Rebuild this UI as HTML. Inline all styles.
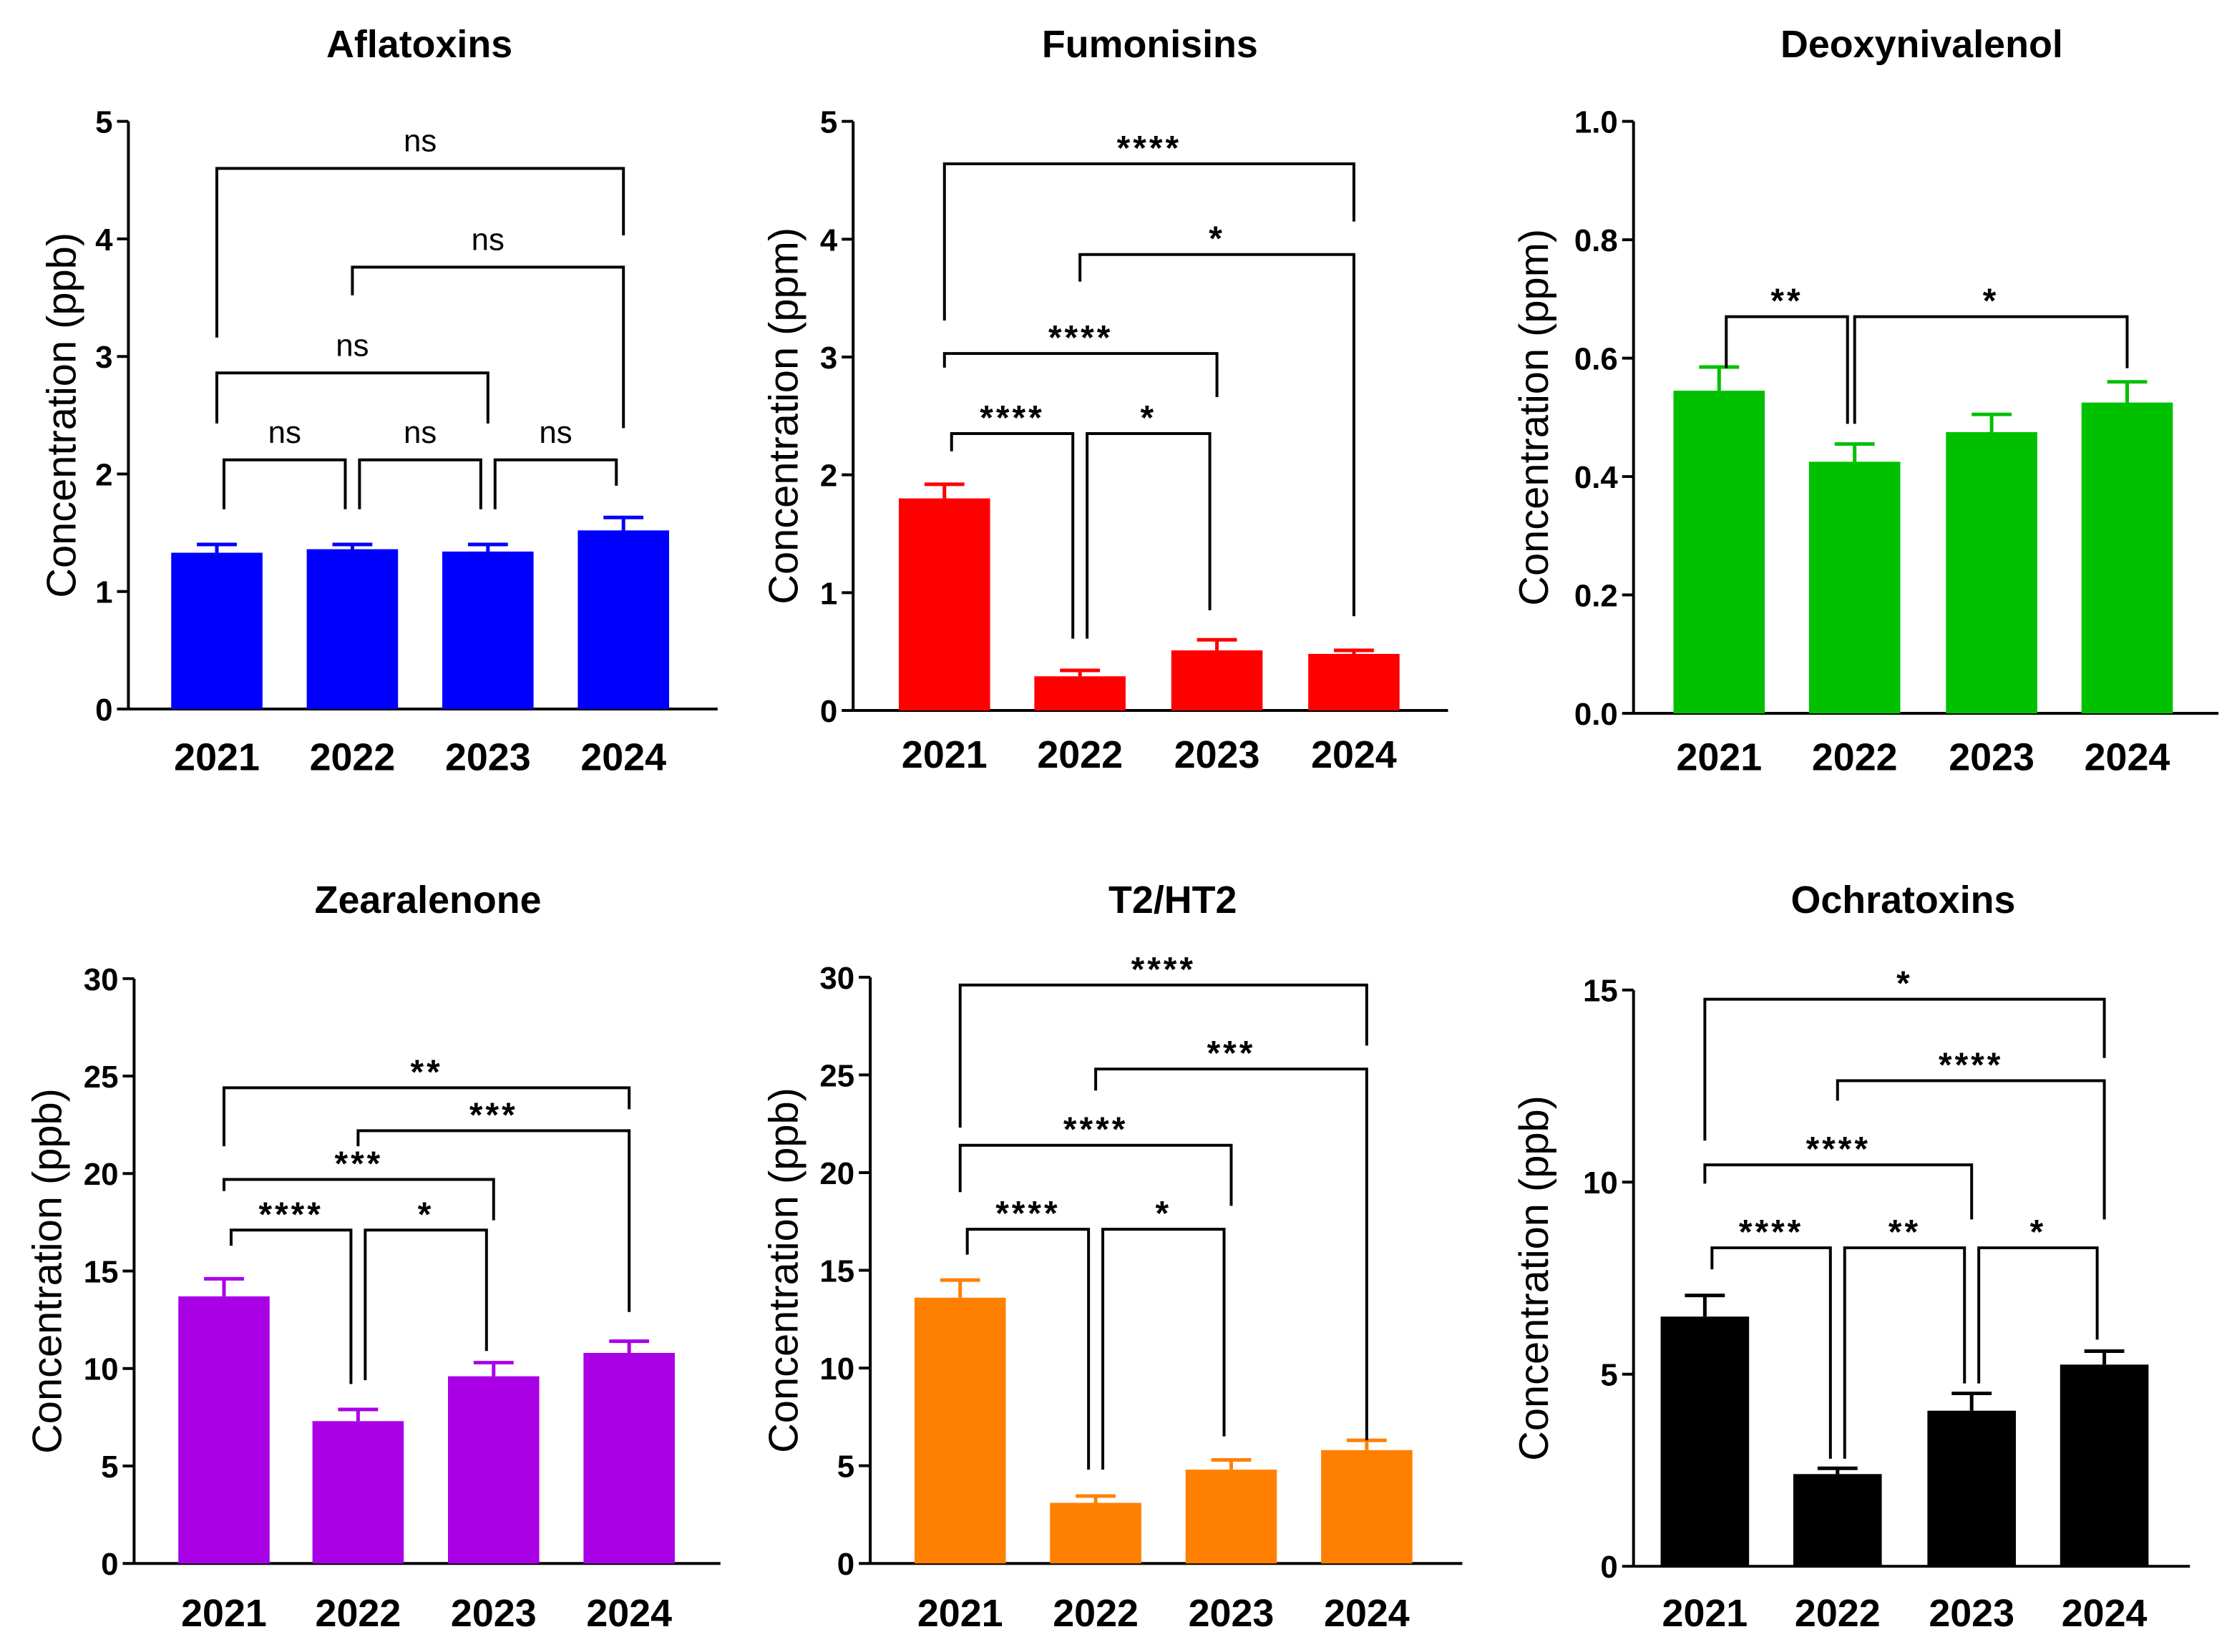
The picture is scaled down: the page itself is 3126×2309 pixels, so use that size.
<!DOCTYPE html>
<html><head><meta charset="utf-8"><style>
html,body{margin:0;padding:0;background:#fff;}
svg{display:block;font-family:"Liberation Sans",Arial,sans-serif;}
</style></head><body>
<svg id="fig" width="3126" height="2309" viewBox="0 0 1568 1158" xmlns="http://www.w3.org/2000/svg"></svg>
<script>
const years = ["2021","2022","2023","2024"];
// panel values
const aflaVals = [1.33,1.36,1.34,1.52];
const aflaErr = [0.07,0.04,0.06,0.11];
const fumVals = [1.80,0.29,0.51,0.48];
const fumErr = [0.12,0.05,0.09,0.03];
const donVals = [0.545,0.425,0.475,0.525];
const donErr = [0.04,0.03,0.03,0.035];
const zeaVals = [13.7,7.3,9.6,10.8];
const zeaErr = [0.9,0.6,0.7,0.6];
const t2Vals = [13.6,3.1,4.8,5.8];
const t2Err = [0.9,0.35,0.5,0.5];
const ochVals = [6.5,2.4,4.05,5.25];
const ochErr = [0.55,0.15,0.45,0.35];
// tick labels
const ticks05 = [0,1,2,3,4,5];
const ticksDon = ["0.0","0.2","0.4","0.6","0.8","1.0"];
const ticks30 = [0,5,10,15,20,25,30];
const ticks15 = [0,5,10,15];
// brackets: [i, j, height, leftLegBottom, rightLegBottom, label]
const aflaBr = [[0,1,2.12,1.70,1.70,"ns"],[1,2,2.12,1.70,1.70,"ns"],[2,3,2.12,1.70,1.90,"ns"],[0,2,2.86,2.43,2.43,"ns"],[1,3,3.76,3.52,2.39,"ns"],[0,3,4.60,3.16,4.03,"ns"]];
const fumBr = [[0,3,4.64,3.31,4.15,"****"],[1,3,3.87,3.64,0.80,"*"],[0,2,3.03,2.91,2.66,"****"],[0,1,2.35,2.20,0.61,"****"],[1,2,2.35,0.61,0.85,"*"]];
const donBr = [[0,1,0.67,0.583,0.489,"**"],[1,3,0.67,0.489,0.583,"*"]];
const zeaBr = [[0,3,24.4,21.4,23.3,"**"],[1,3,22.2,21.4,12.9,"***"],[0,2,19.7,19.1,17.6,"***"],[0,1,17.1,16.3,9.2,"****"],[1,2,17.1,9.4,10.9,"*"]];
const t2Br = [[0,3,29.6,22.3,26.5,"****"],[1,3,25.3,24.2,6.3,"***"],[0,2,21.4,19.0,18.3,"****"],[0,1,17.1,15.8,4.8,"****"],[1,2,17.1,4.8,6.5,"*"]];
const ochBr = [[0,3,14.76,11.08,13.23,"*"],[1,3,12.64,12.12,9.03,"****"],[0,2,10.45,9.96,9.03,"****"],[0,1,8.29,7.73,2.8,"****"],[1,2,8.29,2.8,4.76,"**"],[2,3,8.29,4.76,5.9,"*"]];

const NS="http://www.w3.org/2000/svg";
const svg=document.getElementById("fig");
function mk(tag,attrs,parent,text){const e=document.createElementNS(NS,tag);for(const k in attrs)e.setAttribute(k,attrs[k]);if(text!==undefined)e.textContent=text;(parent||svg).appendChild(e);return e;}

const panels=[
 {key:"aflatoxins",title:"Aflatoxins",tx:294,ty:40,ax:90,axEnd:503,y0:497,yTop:85,max:5,ticks:ticks05,vals:aflaVals,err:aflaErr,br:aflaBr,color:"#0000ff",ylab:"Concentration (ppb)",ylx:53,cx:[152,247,342,437],bw:64,yearY:540},
 {key:"fumonisins",title:"Fumonisins",tx:806,ty:40,ax:598,axEnd:1015,y0:498,yTop:85,max:5,ticks:ticks05,vals:fumVals,err:fumErr,br:fumBr,color:"#ff0000",ylab:"Concentration (ppm)",ylx:559,cx:[662,757,853,949],bw:64,yearY:538},
 {key:"deoxynivalenol",title:"Deoxynivalenol",tx:1347,ty:40,ax:1145,axEnd:1555,y0:500,yTop:85,max:1,ticks:ticksDon,vals:donVals,err:donErr,br:donBr,color:"#00c000",ylab:"Concentration (ppm)",ylx:1085,cx:[1205,1300,1396,1491],bw:64,yearY:540},
 {key:"zearalenone",title:"Zearalenone",tx:300,ty:640,ax:94,axEnd:505,y0:1096,yTop:686,max:30,ticks:ticks30,vals:zeaVals,err:zeaErr,br:zeaBr,color:"#aa00e6",ylab:"Concentration (ppb)",ylx:43,cx:[157,251,346,441],bw:64,yearY:1140},
 {key:"t2-ht2",title:"T2/HT2",tx:822,ty:640,ax:610,axEnd:1025,y0:1096,yTop:685,max:30,ticks:ticks30,vals:t2Vals,err:t2Err,br:t2Br,color:"#ff8000",ylab:"Concentration (ppb)",ylx:559,cx:[673,768,863,958],bw:64,yearY:1140},
 {key:"ochratoxins",title:"Ochratoxins",tx:1334,ty:640,ax:1145,axEnd:1535,y0:1098,yTop:694,max:15,ticks:ticks15,vals:ochVals,err:ochErr,br:ochBr,color:"#000000",ylab:"Concentration (ppb)",ylx:1085,cx:[1195,1288,1382,1475],bw:62,yearY:1140}
];

panels.forEach(p=>{
 const g=mk("g",{});
 
 
 const Y=v=>p.y0-(v/p.max)*(p.y0-p.yTop);
 const t=mk("text",{x:p.tx,y:p.ty,"text-anchor":"middle","font-size":27,"font-weight":"bold"},g,p.title);
 
 
 const yl=mk("text",{x:0,y:0,transform:`translate(${p.ylx},${(p.y0+p.yTop)/2}) rotate(-90)`,"text-anchor":"middle","font-size":29},g,p.ylab);
 
 
 const ya=mk("line",{x1:p.ax,y1:p.yTop,x2:p.ax,y2:p.y0,stroke:"#000","stroke-width":2},g);
 
 
 const xa=mk("line",{x1:p.ax,y1:p.y0,x2:p.axEnd,y2:p.y0,stroke:"#000","stroke-width":2},g);
 
 
 const n=p.ticks.length-1;
 p.ticks.forEach((tk,k)=>{
  const v=p.max*k/n, y=Y(v);
  mk("line",{x1:p.ax-8,y1:y,x2:p.ax,y2:y,stroke:"#000","stroke-width":2},g);
  const tl=mk("text",{x:p.ax-11,y:y+8,"text-anchor":"end","font-size":22,"font-weight":"bold"},g,String(tk));
  
  
 });
 p.vals.forEach((v,i)=>{
  const cx=p.cx[i], top=Y(v), et=Y(v+p.err[i]);
  const r=mk("rect",{x:cx-p.bw/2,y:top,width:p.bw,height:p.y0-top,fill:p.color},g);
  
  
  const e=mk("path",{d:`M${cx} ${top} V${et} M${cx-14} ${et} H${cx+14}`,stroke:p.color,"stroke-width":2.5,fill:"none"},g);
  
  
  const xl=mk("text",{x:cx,y:p.yearY,"text-anchor":"middle","font-size":27,"font-weight":"bold"},g,years[i]);
  
  
 });
 p.br.forEach(b=>{
  const [i,j,h,lb,rb,lab]=b;
  const adj=(j-i===1)?5:0;
  const x1=p.cx[i]+adj, x2=p.cx[j]-adj, y=Y(h);
  const pa=mk("path",{d:`M${x1} ${Y(lb)} V${y} H${x2} V${Y(rb)}`,stroke:"#000","stroke-width":2,fill:"none"},g);
  
  
  const isNs=lab==="ns";
  const lt=mk("text",{x:(x1+x2)/2,y:isNs?y-12:y-3,"text-anchor":"middle","font-size":isNs?22:24,"font-weight":isNs?"normal":"bold","letter-spacing":isNs?0:2},g,lab);
  
  
 });
});
</script>
</body></html>
